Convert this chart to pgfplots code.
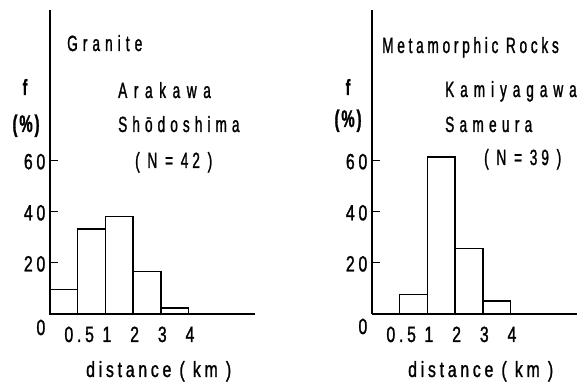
\documentclass[border=0pt]{standalone}
\usepackage{pgfplots}
\pgfplotsset{compat=1.18}
\usepackage{fontspec}
\setmainfont{Liberation Sans}[FakeStretch=0.62, LetterSpace=23, FakeBold=1.2]
\newfontfamily\tickfont{Liberation Sans}[FakeStretch=0.72, LetterSpace=17, FakeBold=1.2]
\newcommand\ls[1]{\addfontfeature{LetterSpace=#1}}

\pgfplotsset{
  histo/.style={
    scale only axis, width=205pt, height=304pt,
    xmin=0, xmax=7.4, ymin=0, ymax=119,
    axis x line=bottom, axis y line=left,
    axis line style={-, line width=1.4pt},
    xtick={1,2,3,4,5}, xticklabels={0.5,1,2,3,4},
    x tick style={draw=none},
    ytick={20,40,60}, tick align=inside, major tick length=8pt,
    y tick style={line width=1pt, black},
    /pgf/number format/assume math mode=true,
    tick label style={font=\tickfont\fontsize{22}{22}\selectfont, inner sep=0pt},
    xticklabel style={anchor=base, yshift=-28pt, xshift=1.5pt},
    yticklabel style={anchor=base east, yshift=-8.5pt, xshift=-4.5pt},
    xlabel={distance ( km )},
    xlabel style={font=\tickfont\fontsize{22}{22}\selectfont, inner sep=0pt,
      at={(rel axis cs:0,0)}, anchor=base west, xshift=36pt, yshift=-63pt},
    clip=false,
  },
  bars/.style={ybar interval, draw=black, fill=white, line width=1.4pt},
}

\begin{document}
\begin{tikzpicture}
\useasboundingbox (0,0) rectangle (579pt,382pt);

% Granite: Arakawa, Shodoshima (N = 42)
\begin{axis}[histo, at={(50pt,68pt)}, anchor=south west]
  \addplot[bars] coordinates {(0,9.5) (1,33.3) (2,38.1) (3,16.7) (4,2.4) (5,0)};
  \node[anchor=base east, inner sep=0pt, font=\tickfont\fontsize{22}{22}\selectfont,
    xshift=-4.5pt, yshift=-21pt] at (rel axis cs:0,0) {0};
\end{axis}

% Metamorphic rocks: Kamiyagawa, Sameura (N = 39)
\begin{axis}[histo, at={(372pt,68pt)}, anchor=south west]
  \addplot[bars] coordinates {(0,0) (1,7.7) (2,61.5) (3,25.6) (4,5.1) (5,0)};
  \node[anchor=base east, inner sep=0pt, font=\tickfont\fontsize{22}{22}\selectfont,
    xshift=-4.5pt, yshift=-20pt] at (rel axis cs:0,0) {0};
\end{axis}

\begin{scope}[every node/.style={font=\fontsize{22}{22}\selectfont, inner sep=0pt}]
  \node[anchor=base west] at (67pt,331pt) {\ls{23}Granite};
  \node[anchor=base west] at (118pt,284pt) {\ls{30}Arakawa};
  \node[anchor=base west] at (118pt,250pt) {\ls{23}Shōdoshima};
  \node[anchor=base west] at (135pt,214pt) {\ls{18}( N = 42 )};
  \node[anchor=base] at (25pt,287pt) {\ls{0}\textbf{f}};
  \node[anchor=base] at (27pt,250pt) {\ls{8}\fontsize{24}{24}\selectfont\textbf{(\%)}};

  \node[anchor=base west] at (382pt,329pt) {\ls{17}Metamorphic Rocks};
  \node[anchor=base west] at (445pt,285pt) {\ls{27}Kamiyagawa};
  \node[anchor=base west] at (445pt,250pt) {\ls{24}Sameura};
  \node[anchor=base west] at (484pt,217pt) {\ls{18}( N = 39 )};
  \node[anchor=base] at (348pt,287pt) {\ls{0}\textbf{f}};
  \node[anchor=base] at (349pt,255pt) {\ls{8}\fontsize{24}{24}\selectfont\textbf{(\%)}};
\end{scope}
\end{tikzpicture}
\end{document}
